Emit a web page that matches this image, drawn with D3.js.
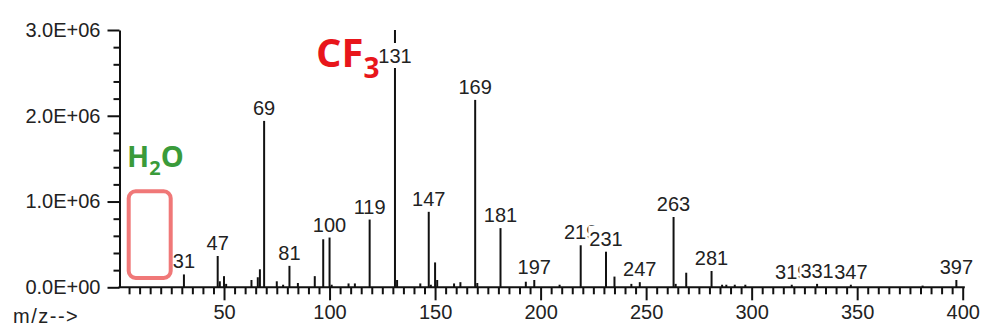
<!DOCTYPE html>
<html>
<head>
<meta charset="utf-8">
<script src="https://cdn.jsdelivr.net/npm/d3@7/dist/d3.min.js"></script>
<style>
  body { margin: 0; background: #fff; }
  svg { display: block; }
  .axis text { font-family: "Liberation Sans", Arial, sans-serif; font-size: 20px; fill: #222; }
  .axis path, .axis line { stroke: #111; }
</style>
</head>
<body>
<svg id="chart" width="982" height="328"></svg>
<script>
'use strict';

// m/z of every peak and its abundance
var mz = [31, 47, 48, 50, 51, 63, 66, 67, 69, 75, 78, 81, 85, 93, 97, 100, 101,
          109, 112, 119, 131, 132, 143, 147, 148, 150, 151, 159, 162, 169, 170,
          181, 193, 197, 209, 219, 231, 235, 243, 247, 263, 264, 269, 281, 286,
          288, 292, 297, 319, 331, 347, 381, 397];
var abundance = [150000, 365000, 70000, 130000, 40000, 85000, 117000, 210000, 1940000,
                 70000, 30000, 250000, 50000, 130000, 560000, 580000, 30000,
                 45000, 45000, 790000, 3000000, 85000, 45000, 880000, 30000, 290000, 85000,
                 45000, 60000, 2185000, 50000,
                 690000, 65000, 85000, 30000, 490000, 415000, 125000, 40000, 60000,
                 820000, 40000, 170000, 190000, 30000,
                 30000, 30000, 30000, 30000, 40000, 30000, 20000, 85000];
// peaks that carry an m/z label
var labelled = [31, 47, 69, 81, 100, 119, 131, 147, 169, 181, 197, 219, 231, 247,
                263, 281, 319, 331, 347, 397];

var xTicks = [50, 100, 150, 200, 250, 300, 350, 400];
var yTicks = [0, 1000000, 2000000, 3000000];

var svg = d3.select('#chart');

var x = d3.scaleLinear().domain([0, 400]).range([118.5, 962.7]);
var y = d3.scaleLinear().domain([0, 3000000]).range([287.3, 30]);

function sci(d) {
    var e = d === 0 ? 0 : Math.floor(Math.log10(d));
    var m = d / Math.pow(10, e);
    return m.toFixed(1) + 'E+' + String(e).padStart(2, '0');
}

/*
 * Axes: major ticks with labels, minor ticks without
 */
var minorX = d3.range(5, 401, 5).filter(function(d) { return d % 50 !== 0; });
var minorY = d3.range(200000, 3000001, 200000).filter(function(d) { return d % 1000000 !== 0; });

svg.append('g')
    .attr('class', 'axis')
    .attr('transform', 'translate(0,' + y(0) + ')')
    .call(d3.axisBottom(x).tickValues(minorX).tickSize(7).tickSizeOuter(0).tickFormat(''))
    .call(function(g) { g.select('.domain').remove(); });

svg.append('g')
    .attr('class', 'axis')
    .attr('transform', 'translate(0,' + y(0) + ')')
    .call(d3.axisBottom(x).tickValues(xTicks).tickSize(13).tickPadding(5).tickSizeOuter(0))
    .call(function(g) { g.select('.domain').attr('d', 'M' + x(0) + ',0H' + x(401)); });

svg.append('g')
    .attr('class', 'axis')
    .attr('transform', 'translate(' + (x(0) + 1) + ',0)')
    .call(d3.axisLeft(y).tickValues(minorY).tickSize(6).tickSizeOuter(0).tickFormat(''))
    .call(function(g) { g.select('.domain').remove(); });

svg.append('g')
    .attr('class', 'axis')
    .attr('transform', 'translate(' + (x(0) + 1) + ',0)')
    .call(d3.axisLeft(y).tickValues(yTicks).tickSize(12).tickPadding(7).tickSizeOuter(0).tickFormat(sci));

svg.selectAll('.axis path, .axis line').attr('stroke-width', 2);

svg.append('text')
    .attr('x', 13)
    .attr('y', 323)
    .style('font-family', '"Liberation Sans", Arial, sans-serif')
    .style('font-size', '20px')
    .style('letter-spacing', '1.5px')
    .style('fill', '#222')
    .text('m/z-->');

/*
 * Peaks
 */
var peaks = mz.map(function(m, i) { return { mz: m, value: abundance[i] }; });

svg.append('g')
    .selectAll('line')
    .data(peaks)
    .enter()
    .append('line')
    .attr('x1', function(d) { return x(d.mz); })
    .attr('x2', function(d) { return x(d.mz); })
    .attr('y1', y(0))
    .attr('y2', function(d) { return y(d.value); })
    .style('stroke', '#111')
    .style('stroke-width', 2);

// labels, each on a white patch so later ones cover earlier ones
var labels = svg.append('g');
peaks.filter(function(d) { return labelled.indexOf(d.mz) >= 0; }).forEach(function(d) {
    var g = labels.append('g');
    var t = g.append('text')
        .attr('x', x(d.mz))
        .attr('y', Math.max(y(d.value) - 6, 63))
        .style('text-anchor', 'middle')
        .style('font-family', '"Liberation Sans", Arial, sans-serif')
        .style('font-size', '20px')
        .style('fill', '#222')
        .text(d.mz);
    var b = t.node().getBBox();
    g.insert('rect', 'text')
        .attr('x', b.x - 1)
        .attr('y', b.y - 2)
        .attr('width', b.width + 2)
        .attr('height', b.height + 3)
        .style('fill', '#fff');
});

/*
 * Annotations
 */
var cf3 = svg.append('text')
    .attr('x', 316)
    .attr('y', 67)
    .style('font-family', '"Open Sans", sans-serif')
    .style('font-weight', 'bold')
    .style('font-size', '40px')
    .style('fill', '#e8161b');
cf3.append('tspan').text('CF');
cf3.append('tspan').attr('dy', 11).style('font-size', '28px').text('3');

var h2o = svg.append('text')
    .attr('x', 127)
    .attr('y', 167)
    .style('font-family', '"Open Sans", sans-serif')
    .style('font-weight', 'bold')
    .style('font-size', '29px')
    .style('fill', '#3a9b3a');
h2o.append('tspan').text('H');
h2o.append('tspan').attr('dy', 8).style('font-size', '20px').text('2');
h2o.append('tspan').attr('dy', -8).text('O');

svg.append('rect')
    .attr('x', 128.7)
    .attr('y', 191.3)
    .attr('width', 42)
    .attr('height', 86.7)
    .attr('rx', 7)
    .style('fill', 'none')
    .style('stroke', '#f07878')
    .style('stroke-width', 4);
</script>
</body>
</html>
